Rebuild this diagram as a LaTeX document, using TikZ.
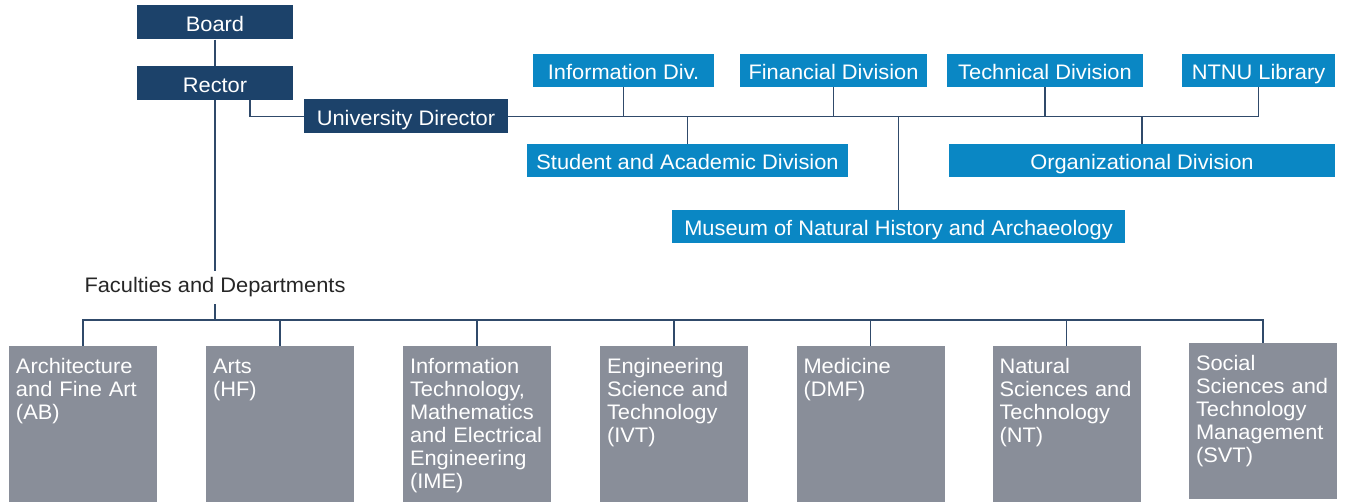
\documentclass[tikz,border=0pt]{standalone}
\usepackage{fontspec}
\setmainfont{Liberation Sans}[FakeStretch=1.04]
\usepackage{tikz}

\definecolor{ntnunavy}{RGB}{28,66,106}
\definecolor{ntnublue}{RGB}{10,135,196}
\definecolor{facgray}{RGB}{137,142,153}
\definecolor{linkcol}{RGB}{48,74,106}

\tikzset{
    govbox/.style={fill=ntnunavy, text=white, minimum height=34, inner sep=0, text height=19, text depth=0},
    divbox/.style={fill=ntnublue, text=white, minimum height=33, inner sep=0, text height=19, text depth=0},
    facbox/.style={fill=facgray, text=white, anchor=north, text width=134, align=left, inner xsep=7, inner ysep=12, text height=15, text depth=117},
    link/.style={draw=linkcol, line width=1.6pt}
}

\begin{document}
\begin{tikzpicture}[x=1pt, y=-1pt, font=\fontsize{21}{23}\selectfont]
    \useasboundingbox (0, 0) rectangle (1349, 502);

    % draw board, rector and director
    \node[govbox, minimum width=156] (board) at (215, 22.5) {Board};
    \node[govbox, minimum width=156] (rector) at (215, 83) {Rector};
    \node[govbox, minimum width=204] (udir) at (406, 116.5) {University Director};

    % draw divisions
    \node[divbox, minimum width=181] (info) at (623.5, 70.5) {Information Div.};
    \node[divbox, minimum width=187] (fin) at (833.5, 70.5) {Financial Division};
    \node[divbox, minimum width=196] (tech) at (1045, 70.5) {Technical Division};
    \node[divbox, minimum width=153] (lib) at (1258.5, 70.5) {NTNU Library};
    \node[divbox, minimum width=321] (stud) at (687.5, 160.5) {Student and Academic Division};
    \node[divbox, minimum width=386] (org) at (1142, 160.5) {Organizational Division};
    \node[divbox, minimum width=453] (mus) at (898.5, 226.5) {Museum of Natural History and Archaeology};

    % draw faculties
    \node[inner sep=7, text=black!85] (fac) at (215, 287.5) {Faculties and Departments};
    \coordinate (facbus) at (215, 320);

    \node[facbox] (ab) at (83, 346) {Architecture\\and Fine Art\\(AB)};
    \node[facbox] (hf) at (280, 346) {Arts\\(HF)};
    \node[facbox] (ime) at (477, 346) {Information\\Technology,\\Mathematics\\and Electrical\\Engineering\\(IME)};
    \node[facbox] (ivt) at (674, 346) {Engineering\\Science and\\Technology\\(IVT)};
    \node[facbox] (dmf) at (870.5, 346) {Medicine\\(DMF)};
    \node[facbox] (nt) at (1066.5, 346) {Natural\\Sciences and\\Technology\\(NT)};
    \node[facbox] (svt) at (1263, 343) {Social\\Sciences and\\Technology\\Management\\(SVT)};

    % draw lines
    \draw[link] (board) -- (rector);
    \draw[link] ([xshift=35]rector.south) |- (udir.west);
    \draw[link] (udir.east) -- (lib.south |- udir.east) -- (lib.south);
    \foreach \d in {info, fin, tech}
        \draw[link] (\d.south) -- (\d.south |- udir.east);
    \foreach \d in {stud, mus, org}
        \draw[link] (\d.north) -- (\d.north |- udir.east);

    \draw[link] (rector) -- (fac);
    \draw[link] (fac.south) -- (facbus);
    \draw[link] (ab.north) -- (ab.north |- facbus) -- (svt.north |- facbus) -- (svt.north);
    \foreach \f in {hf, ime, ivt, dmf, nt}
        \draw[link] (\f.north) -- (\f.north |- facbus);
\end{tikzpicture}
\end{document}
